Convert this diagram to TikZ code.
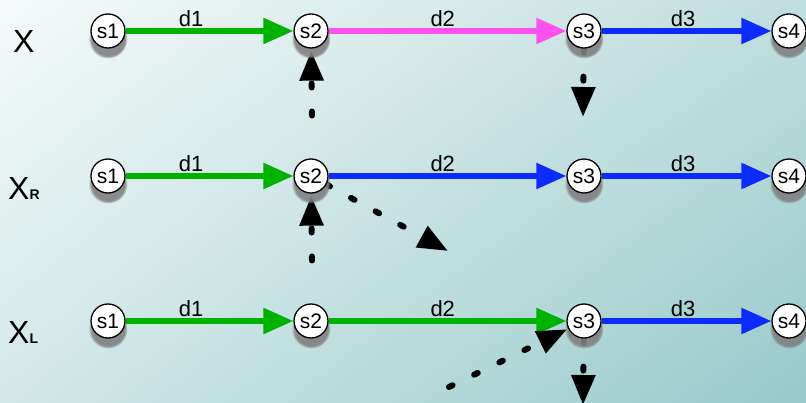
\documentclass[tikz,border=0pt]{standalone}
\usepackage{fontspec}
\setmainfont{Liberation Sans}
\usetikzlibrary{arrows.meta,shadows,shadings}
\definecolor{egreen}{RGB}{0,178,0}
\definecolor{epink}{RGB}{255,80,240}
\definecolor{eblue}{RGB}{12,44,255}
\definecolor{bgtl}{RGB}{246,250,250}
\definecolor{bgtr}{RGB}{192,222,222}
\definecolor{bgbl}{RGB}{210,232,232}
\definecolor{bgbr}{RGB}{152,202,202}
\pgfdeclarelayer{bglayer}
\pgfdeclarelayer{edgelayer}
\pgfsetlayers{bglayer,edgelayer,main}
\tikzset{
  st/.style={circle, draw=black, line width=1.3pt, fill=white, minimum size=34pt, inner sep=0pt,
    font=\fontsize{21}{21}\selectfont,
    circular drop shadow={shadow xshift=0pt, shadow yshift=-7pt, shadow scale=1.15, opacity=0.9}},
  trans/.style={line width=5.5pt, -{Triangle[length=30pt,width=25pt]}},
  lbl/.style={above=2pt, text=black, font=\fontsize{22}{22}\selectfont, inner sep=0pt},
  hint/.style={black, line width=6pt, line cap=round, dash pattern=on 4pt off 24pt,
    -{Triangle[length=30pt,width=23pt]}},
  rowlbl/.style={anchor=base west, inner sep=0pt, font=\fontsize{32}{32}\selectfont}
}
\begin{document}
\begin{tikzpicture}[x=1pt,y=-1pt]
\useasboundingbox (0,0) rectangle (806,403);
\begin{pgfonlayer}{bglayer}
\shade[upper left=bgtl, upper right=bgtr, lower left=bgbl, lower right=bgbr] (0,0) rectangle (806,403);
\end{pgfonlayer}
\clip (0,0) rectangle (806,403);

% row labels
\node[rowlbl] (lx) at (13,53) {X};
\node[rowlbl] (lxr) at (8,200) {X\fontsize{14}{14}\selectfont\bfseries R};
\node[rowlbl] (lxl) at (8,344) {X\fontsize{14}{14}\selectfont\bfseries L};

% states
\foreach \r/\y in {t/31, m/176, b/321}{
  \node[st] (s1\r) at (108,\y) {s1};
  \node[st] (s2\r) at (311,\y) {s2};
  \node[st] (s3\r) at (584,\y) {s3};
  \node[st] (s4\r) at (789,\y) {s4};
}

\coordinate (c1) at (312,115.5);
\coordinate (c2) at (312,260.5);
\coordinate (c3) at (448,251);
\coordinate (c4) at (583,117);
\coordinate (c5) at (449,387);
\coordinate (c6) at (583,405);

\begin{pgfonlayer}{edgelayer}
% top row
\draw[trans, egreen] (s1t) -- node[lbl, pos=0.39] (d1t) {d1} (s2t);
\draw[trans, epink] (s2t) -- node[lbl, pos=0.48] (d2t) {d2} (s3t);
\draw[trans, eblue] (s3t) -- node[lbl, pos=0.48] (d3t) {d3} (s4t);
% middle row
\draw[trans, egreen] (s1m) -- node[lbl, pos=0.39] (d1m) {d1} (s2m);
\draw[trans, eblue] (s2m) -- node[lbl, pos=0.48] (d2m) {d2} (s3m);
\draw[trans, eblue] (s3m) -- node[lbl, pos=0.48] (d3m) {d3} (s4m);
% bottom row
\draw[trans, egreen] (s1b) -- node[lbl, pos=0.39] (d1b) {d1} (s2b);
\draw[trans, egreen] (s2b) -- node[lbl, pos=0.48] (d2b) {d2} (s3b);
\draw[trans, eblue] (s3b) -- node[lbl, pos=0.48] (d3b) {d3} (s4b);
% dashed hints
\draw[hint, shorten >=2pt] (c1) -- (s2t);
\draw[hint, shorten >=2pt] (c2) -- (s2m);
\draw[hint] (s2m) -- (c3);
\draw[hint] (s3t) -- (c4);
\draw[hint, shorten >=1pt] (c5) -- (s3b);
\draw[hint] (s3b) -- (c6);
\end{pgfonlayer}
\end{tikzpicture}
\end{document}
